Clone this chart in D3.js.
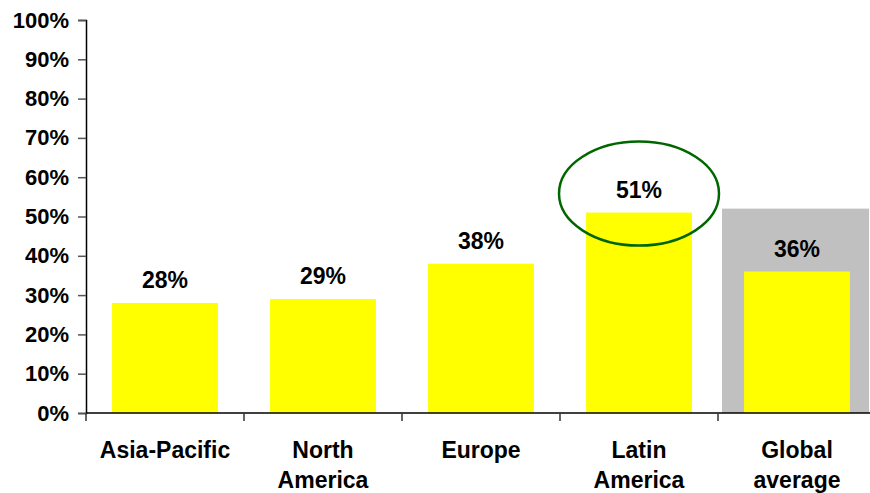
<!DOCTYPE html>
<html><head><meta charset="utf-8">
<script src="https://cdn.jsdelivr.net/npm/d3@7"></script>
<style>body{margin:0;background:#fff}svg{display:block}text{font-family:"Liberation Sans",Arial,sans-serif;font-weight:bold;fill:#000}</style>
</head><body><svg id="c" width="870" height="493"></svg>
<script>
const categories = [["Asia-Pacific"],["North","America"],["Europe"],["Latin","America"],["Global","average"]];
const values = [28, 29, 38, 51, 36];
const yTicks = [0,10,20,30,40,50,60,70,80,90,100];
const highlightIndex = 3;
const averageIndex = 4;
const averageBoxTop = 52;

const svg = d3.select("#c");
const x0 = 86, x1 = 876, yTop = 20, yBot = 413;
const x = d3.scaleBand().domain(d3.range(categories.length)).range([x0, x1]).paddingInner(0).paddingOuter(0);
const y = d3.scaleLinear().domain([0,100]).range([yBot, yTop]);
const bw = x.bandwidth()*0.67;

// gray box behind average
svg.append("rect").attr("x", x(averageIndex)+4).attr("width", 869-(x(averageIndex)+4))
  .attr("y", y(averageBoxTop)).attr("height", y(0)-y(averageBoxTop)).attr("fill","#c0c0c0");

// bars
svg.selectAll("rect.bar").data(values).enter().append("rect").attr("class","bar")
  .attr("x",(d,i)=>x(i)+x.bandwidth()/2-bw/2).attr("width",bw)
  .attr("y",d=>y(d)).attr("height",d=>y(0)-y(d)).attr("fill","#ffff00");

// value labels
svg.selectAll("text.val").data(values).enter().append("text").attr("class","val")
  .attr("x",(d,i)=>x(i)+x.bandwidth()/2).attr("y",d=>y(d)-15)
  .attr("text-anchor","middle").style("font-size","23px").text(d=>d+"%");

// y axis
const ya = svg.append("g").attr("transform",`translate(${x0},0)`)
  .call(d3.axisLeft(y).tickValues(yTicks).tickFormat(d=>d+"%").tickSize(8).tickPadding(9));
ya.select(".domain").attr("stroke","#000").attr("stroke-width",1.5);
ya.selectAll(".tick line").attr("stroke","#555").attr("stroke-width",1.5);
ya.selectAll(".tick text").style("font-size","22px").attr("fill","#000");
ya.selectAll("text").style("font-family",'"Liberation Sans",Arial,sans-serif').style("font-weight","bold");

// x axis line
svg.append("line").attr("x1",x0).attr("x2",870).attr("y1",yBot).attr("y2",yBot).attr("stroke","#000").attr("stroke-width",1.5);
svg.selectAll("line.xt").data(d3.range(categories.length)).enter().append("line").attr("class","xt")
  .attr("x1",i=>x(i)).attr("x2",i=>x(i)).attr("y1",yBot).attr("y2",yBot+8).attr("stroke","#333").attr("stroke-width",1.5);

// category labels
const cl = svg.selectAll("text.cat").data(categories).enter().append("text").attr("class","cat")
  .attr("text-anchor","middle").style("font-size","23px");
cl.each(function(lines,i){
  const t = d3.select(this);
  lines.forEach((ln,k)=>{
    t.append("tspan").attr("x",x(i)+x.bandwidth()/2).attr("y",458+k*30).text(ln);
  });
});

// highlight ellipse
svg.append("ellipse").attr("cx",x(highlightIndex)+x.bandwidth()/2).attr("cy",y(values[highlightIndex])-19)
  .attr("rx",80).attr("ry",52).attr("fill","none").attr("stroke","#006600").attr("stroke-width",2.5);
</script></body></html>
